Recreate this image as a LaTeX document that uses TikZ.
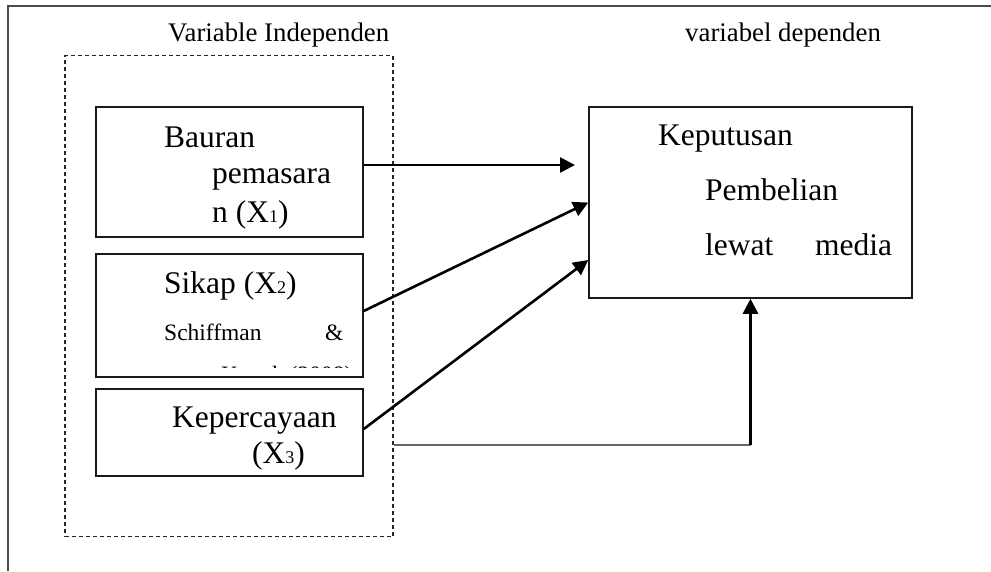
\documentclass[tikz,border=0pt]{standalone}
\usepackage{fontspec}
\setmainfont{Liberation Serif}
\usetikzlibrary{arrows.meta}
\begin{document}
\begin{tikzpicture}[x=1pt,y=-1pt,
  box/.style={draw=black!90, line width=1.5pt, inner sep=0pt},
  dashbox/.style={draw=black!85, line width=1.3pt, dash pattern=on 4pt off 3pt, inner sep=0pt},
  conn/.style={line width=2.6pt, -{Triangle[length=15pt,width=15pt]}},
  txt/.style={anchor=base west, inner sep=0pt},
  big/.style={font=\fontsize{31.5}{31.5}\selectfont},
  head/.style={font=\fontsize{26.8}{26.8}\selectfont},
  small/.style={font=\fontsize{23.5}{23.5}\selectfont}]
\newcommand{\sbs}[1]{{\fontsize{18}{18}\selectfont #1}}
\useasboundingbox (0,0) rectangle (991,571);
% outer frame
\draw[draw=black!70, line width=1.6pt] (8,571) -- (8,6) -- (991,6);
% headers
\node[txt, head] (h1) at (168,41.7) {Variable Independen};
\node[txt, head] (h2) at (685,41.7) {variabel dependen};
% boxes
\node[dashbox, minimum width=328, minimum height=481] (D) at (229,296) {};
\node[box, minimum width=267, minimum height=130] (B1) at (229.5,172) {};
\node[box, minimum width=267, minimum height=123] (B2) at (229.5,315.5) {};
\node[box, minimum width=267, minimum height=87] (B3) at (229.5,432.5) {};
\node[box, minimum width=323, minimum height=191] (R) at (750.5,202.5) {};
% box 1 text
\node[txt, big] (t11) at (164,147) {Bauran};
\node[txt, big] (t12) at (212,183) {pemasara};
\node[txt, big] (t13) at (212,222) {n (X\sbs{1})};
% box 2 text
\node[txt, big] (t21) at (164,293) {Sikap (X\sbs{2})};
\node[txt, small] (t22) at (164,340) {Schiffman};
\node[txt, small] (t23) at (325,340) {\&};
\begin{scope}
\clip (96,254) rectangle (363,367);
\node[txt, small] (t24) at (221,382) {Kanuk (2008)};
\end{scope}
% box 3 text
\node[txt, big] (t31) at (172,427) {Kepercayaan};
\node[txt, big] (t32) at (252,463) {(X\sbs{3})};
% right box text
\node[txt, big] (r1) at (658,145) {Keputusan};
\node[txt, big] (r2) at (705,200) {Pembelian};
\node[txt, big] (r3) at (705,255) {lewat};
\node[txt, big] (r4) at (815,255) {media};
% connectors
\coordinate (y165) at (0,165);
\coordinate (y311) at (0,311);
\coordinate (y429) at (0,429);
\coordinate (y260) at (0,260);
\coordinate (y445) at (0,445);
\coordinate (e1) at (575,165);
\draw[conn] (B1.east |- y165) -- (e1);
\draw[conn] (B2.east |- y311) -- (R.west);
\draw[conn] (B3.east |- y429) -- (R.west |- y260);
\coordinate (corner) at (R.south |- y445);
\draw[draw=black!60, line width=1.2pt] (D.east |- y445) -- (corner);
\draw[conn] (corner) -- (R.south);
\end{tikzpicture}
\end{document}
